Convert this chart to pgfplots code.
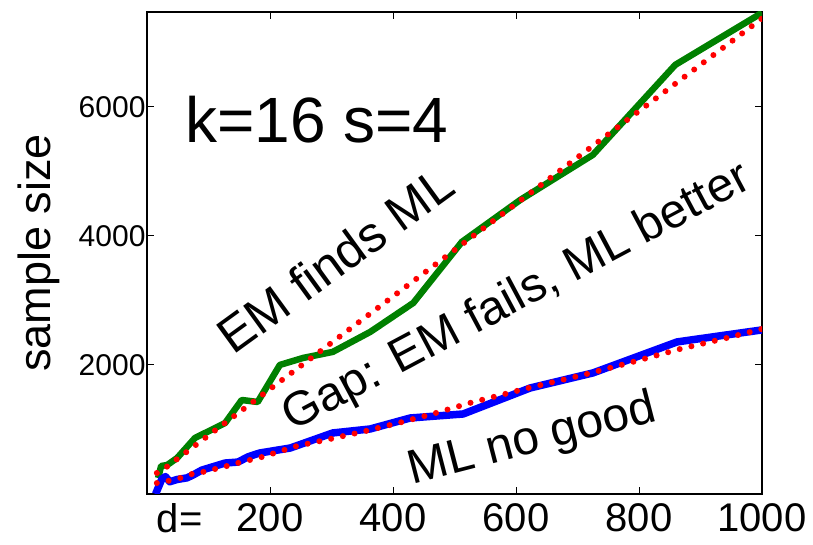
\documentclass[border=0pt]{standalone}
\usepackage{pgfplots}
\pgfplotsset{compat=1.18}
\usepackage{fontspec}
\setmainfont{Liberation Sans}
\definecolor{mgreen}{RGB}{0,128,0}
\definecolor{mblue}{RGB}{0,0,255}
\definecolor{mred}{RGB}{255,0,0}
\begin{document}
\begin{tikzpicture}
\begin{axis}[
  scale only axis, width=615pt, height=482pt,
  xmin=0, xmax=1000, ymin=0, ymax=7470,
  axis line style={line width=1.5pt},
  tick align=inside, major tick length=7pt, tick style={line width=1pt, black},
  xtick={0,200,400,600,800,1000},
  xticklabels={\makebox[0pt][l]{\hspace{10pt}d=},200,400,600,800,1000},
  ytick={2000,4000,6000},
  yticklabels={2000,4000,6000},
  xticklabel style={font=\fontsize{40}{48}\selectfont, yshift=-6pt},
  yticklabel style={font=\fontsize{30}{36}\selectfont, xshift=2pt},
  ylabel={sample size},
  ylabel style={font=\fontsize{45}{52}\selectfont, xshift=0pt, yshift=12pt},
]
\coordinate (ll) at (rel axis cs:0,0);
\coordinate (ur) at (rel axis cs:1,1);

% EM finds ML (green)
\addplot[mgreen, line width=6.5pt, line join=round] coordinates {
  (18,248) (23,434) (33,450) (49,558) (78,868) (127,1100) (154,1457)
  (180,1426) (216,2000) (254,2109) (302,2202) (363,2512) (433,2961)
  (512,3907) (607,4558) (725,5256) (859,6651) (1000,7457)
};
% ML no good (blue)
\addplot[mblue, line width=7.5pt, line join=round] coordinates {
  (14,0) (24,230) (30,270) (37,190) (49,225) (65,250) (75,295) (89,370)
  (127,480) (148,495) (164,575) (183,635) (233,713) (302,946) (363,1008)
  (428,1178) (514,1240) (623,1643) (725,1876) (862,2357) (1000,2543)
};
% fits (red dotted)
\addplot[mred, line width=6pt, line cap=round, dash pattern=on 0pt off 12pt] coordinates {
  (16,326) (33,427) (49,542) (78,750) (127,1102) (180,1482) (216,1741)
  (254,2014) (302,2358) (363,2796) (433,3299) (512,3866) (607,4548)
  (725,5396) (859,6358) (1000,7370)
};
\addplot[mred, line width=6pt, line cap=round, dash pattern=on 0pt off 12pt] coordinates {
  (16,170) (34,202) (54,248) (73,310) (91,341) (111,388) (130,434)
  (148,481) (187,574) (244,744) (298,853) (356,977) (415,1116) (470,1256)
  (525,1411) (582,1550) (620,1643) (715,1860) (790,2047) (867,2248)
  (943,2419) (1000,2558)
};

\node[anchor=base west, font=\fontsize{64}{70}\selectfont, inner sep=0pt] at (axis cs:62,5442) {k=16 s=4};
\node[anchor=base west, font=\fontsize{50}{56}\selectfont, inner sep=0pt, rotate=36] at (axis cs:140,2140) {EM finds ML};
\node[anchor=base west, font=\fontsize{48}{54}\selectfont, inner sep=0pt, rotate=28] at (axis cs:236,960) {Gap: EM fails, ML better};
\node[anchor=base west, font=\fontsize{48}{54}\selectfont, inner sep=0pt, rotate=14.5] at (axis cs:432,150) {ML no good};
\end{axis}
\pgfresetboundingbox
\path ([shift={(-147pt,-51pt)}]ll) rectangle ([shift={(51pt,12pt)}]ur);
\end{tikzpicture}
\end{document}
